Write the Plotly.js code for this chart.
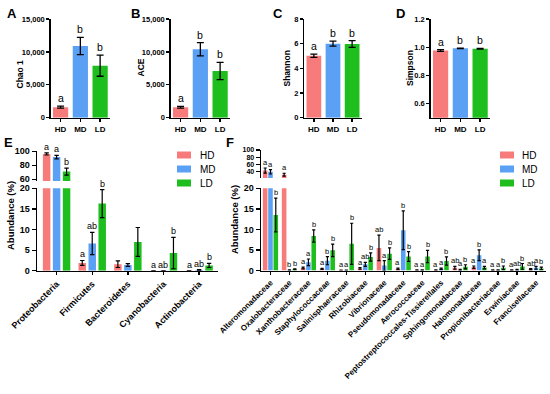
<!DOCTYPE html>
<html><head><meta charset="utf-8">
<script src="https://cdn.plot.ly/plotly-3.0.1.min.js"></script>
<style>html,body{margin:0;padding:0;background:#fff}#chart{width:550px;height:394px}</style>
</head><body><div id="chart"></div>
<script>
// ---------- data ----------
const groups = ['HD', 'MD', 'LD'];

const chao1 = [1600, 10900, 7900];
const chao1Err = [150, 1300, 1600];
const chao1Sig = ['a', 'b', 'b'];

const ace = [1600, 10400, 7100];
const aceErr = [130, 1000, 1300];
const aceSig = ['a', 'b', 'b'];

const shannon = [5.02, 6.0, 5.97];
const shannonErr = [0.13, 0.2, 0.27];
const shannonSig = ['a', 'b', 'b'];

const simpson = [0.977, 0.992, 0.989];
const simpsonErr = [0.006, 0.002, 0.003];
const simpsonSig = ['a', 'b', 'b'];

const phyla = ['Proteobacteria', 'Firmicutes', 'Bacteroidetes', 'Cyanobacteria', 'Actinobacteria'];
const phylumHD = [96.2, 1.9, 1.6, 0.03, 0.05];
const phylumHDErr = [1.5, 0.6, 0.8, 0.01, 0.02];
const phylumHDSig = ['a', 'a', '', 'a', 'a'];
const phylumMD = [91.8, 6.6, 1.4, 0.05, 0.2];
const phylumMDErr = [2.5, 2.7, 0.35, 0.02, 0.1];
const phylumMDSig = ['a', 'ab', '', 'ab', 'ab'];
const phylumLD = [71, 16.3, 7.0, 4.3, 1.3];
const phylumLDErr = [5, 3.4, 3.5, 3.8, 0.5];
const phylumLDSig = ['b', 'b', '', 'b', 'b'];

const families = ['Alteromonadaceae', 'Oxalobacteraceae', 'Xanthobacteraceae', 'Staphylococcaceae',
  'Salinisphaeraceae', 'Rhizobiaceae', 'Vibrionaceae', 'Pseudomonadaceae', 'Aerococcaceae',
  'Peptostreptococcales-Tissierellales', 'Sphingomonadaceae', 'Halomonadaceae',
  'Propionibacteriaceae', 'Erwiniaceae', 'Francisellaceae'];
const familyHD = [43.5, 32, 0.6, 0.4, 0.05, 0.5, 5.5, 0.4, 0.1, 0.1, 0.65, 0.8, 0.1, 0.1, 0.3];
const familyHDErr = [7, 4, 0.2, 0.15, 0.02, 0.2, 3.1, 0.2, 0.05, 0.05, 0.35, 0.3, 0.05, 0.05, 0.15];
const familyHDSig = ['a', 'a', 'a', 'a', 'a', 'a', 'ab', 'a', 'a', 'a', 'ab', 'a', 'a', 'a', 'ab'];
const familyMD = [40, 0.1, 2.0, 2.4, 0.05, 1.5, 1.2, 9.8, 0.1, 0.4, 0.15, 3.7, 0.1, 0.2, 0.65];
const familyMDErr = [6, 0.05, 0.8, 1.0, 0.02, 0.5, 1.2, 4.7, 0.05, 0.2, 0.1, 1.3, 0.05, 0.1, 0.35];
const familyMDSig = ['a', 'b', 'a', 'b', 'a', 'ab', 'a', 'b', 'a', 'a', 'a', 'b', 'a', 'ab', 'a'];
const familyLD = [13.5, 0.3, 8.4, 4.9, 6.5, 3.3, 4.1, 3.4, 3.4, 2.3, 0.9, 0.7, 0.65, 1.0, 0.5];
const familyLDErr = [4.1, 0.1, 1.5, 1.5, 5, 1.0, 1.4, 1.2, 1.5, 1.0, 0.5, 0.3, 0.45, 0.7, 0.3];
const familyLDSig = ['b', 'b', 'b', 'b', 'b', 'b', 'b', 'b', 'b', 'b', 'b', 'a', 'b', 'b', 'b'];

const colors = ['#F77B7B', '#5AA0F5', '#1DBE1D'];

// ---------- layout helpers ----------
const W = 550, H = 394;
const FONT = 'Arial, "Liberation Sans", sans-serif';
const fx = p => p / W;
const fy = p => 1 - p / H;
const bold = s => ({ family: FONT, size: s, color: '#000', weight: 'bold' });
const axisBase = {
  showline: true, linecolor: '#000', linewidth: 1.4, ticks: 'outside', ticklen: 4,
  tickwidth: 1.3, tickcolor: '#000', showgrid: false, zeroline: false, fixedrange: true
};

const traces = [];
const annotations = [];
const shapes = [];
const layout = {
  width: W, height: H, margin: { l: 0, r: 0, t: 0, b: 0 }, paper_bgcolor: '#fff',
  plot_bgcolor: 'rgba(0,0,0,0)', showlegend: false, barmode: 'overlay',
  font: { family: FONT, color: '#000' }
};

// ---------- panels A-D ----------
const topPanels = [
  { id: '', vals: chao1, err: chao1Err, sig: chao1Sig, title: 'Chao 1', xd: [50.7, 110],
    range: [0, 15000], tickvals: [0, 5000, 10000, 15000], fmt: ',', letter: 'A', lp: [11.5, 13], tp: [19.5, 74] },
  { id: '2', vals: ace, err: aceErr, sig: aceSig, title: 'ACE', xd: [170.7, 230],
    range: [0, 15000], tickvals: [0, 5000, 10000, 15000], fmt: ',', letter: 'B', lp: [135, 13], tp: [140.5, 68] },
  { id: '3', vals: shannon, err: shannonErr, sig: shannonSig, title: 'Shannon', xd: [304.3, 361.7],
    range: [0, 8], tickvals: [0, 2, 4, 6, 8], fmt: 'd', letter: 'C', lp: [278, 13], tp: [286, 68.5] },
  { id: '4', vals: simpson, err: simpsonErr, sig: simpsonSig, title: 'Simpson', xd: [430.7, 490],
    range: [0.5, 1.2], tickvals: [0.6, 0.8, 1.0, 1.2], fmt: '.1f', letter: 'D', lp: [400, 13], tp: [409.5, 68.5] }
];
topPanels.forEach(p => {
  const xa = 'x' + p.id, ya = 'y' + p.id;
  traces.push({
    type: 'bar', x: groups, y: p.vals, xaxis: xa, yaxis: ya, width: 0.77,
    marker: { color: colors, line: { width: 0 } },
    error_y: { type: 'data', array: p.err, visible: true, color: '#000', thickness: 1.3, width: 3.5 },
    hoverinfo: 'skip'
  });
  layout['xaxis' + p.id] = Object.assign({}, axisBase, {
    domain: [fx(p.xd[0]), fx(p.xd[1])], anchor: ya, type: 'category', range: [-0.5, 2.5],
    tickfont: bold(8), ticklen: 3
  });
  layout['yaxis' + p.id] = Object.assign({}, axisBase, {
    domain: [fy(117.7), fy(19)], anchor: xa, range: p.range, tickvals: p.tickvals,
    tickformat: p.fmt, tickfont: bold(7.5), ticklen: 3
  });
  p.vals.forEach((v, i) => {
    annotations.push({ xref: xa, yref: ya, x: i, y: v + p.err[i], text: p.sig[i], showarrow: false,
      yanchor: 'bottom', xanchor: 'center', yshift: 0, font: { family: FONT, size: 10.5, color: '#000' } });
  });
  annotations.push({ xref: 'paper', yref: 'paper', x: fx(p.lp[0]), y: fy(p.lp[1]), text: p.letter,
    showarrow: false, xanchor: 'center', yanchor: 'middle', font: bold(13) });
  annotations.push({ xref: 'paper', yref: 'paper', x: fx(p.tp[0]), y: fy(p.tp[1]), text: p.title,
    showarrow: false, textangle: -90, xanchor: 'center', yanchor: 'middle', font: bold(8.5) });
});

// ---------- broken-axis panels E, F ----------
const lowerPanels = [
  { xa: 'x5', lo: 'y5', hi: 'y6', cats: phyla,
    series: [[phylumHD, phylumHDErr, phylumHDSig], [phylumMD, phylumMDErr, phylumMDSig], [phylumLD, phylumLDErr, phylumLDSig]],
    width: 0.21, centers: [-0.28, 0, 0.28], cap: 2.2, xd: [37, 218], xrange: [-0.55, 4.53],
    loD: [270.8, 188.3], hiD: [181, 151.3], hiRange: [57.5, 100], hiTicks: [60, 80, 100], hiFont: 9,
    xfont: 9, sigFont: 9, letter: 'E', lp: [8, 143], tp: [10, 216], legX: 177, legTextX: 198 },
  { xa: 'x6', lo: 'y7', hi: 'y8', cats: families,
    series: [[familyHD, familyHDErr, familyHDSig], [familyMD, familyMDErr, familyMDSig], [familyLD, familyLDErr, familyLDSig]],
    width: 0.24, centers: [-0.28, 0, 0.28], cap: 1.6, xd: [261, 545.5], xrange: [-0.5, 14.5],
    loD: [270.5, 188.3], hiD: [178, 150], hiRange: [23, 100], hiTicks: [40, 60, 80, 100], hiFont: 7,
    xfont: 8, sigFont: 7.5, letter: 'F', lp: [230, 143], tp: [234, 220], legX: 500, legTextX: 520 }
];
const legY = [155, 169, 183];
lowerPanels.forEach(p => {
  const loMax = 20;
  p.series.forEach((s, g) => {
    [p.lo, p.hi].forEach(ya => {
      traces.push({
        type: 'bar', x: p.cats, y: s[0], xaxis: p.xa, yaxis: ya, width: p.width,
        offset: p.centers[g] - p.width / 2,
        marker: { color: colors[g], line: { width: 0 } },
        error_y: { type: 'data', array: s[1], visible: true, color: '#000', thickness: 1.2, width: p.cap },
        hoverinfo: 'skip'
      });
    });
    s[0].forEach((v, i) => {
      if (!s[2][i]) return;
      const top = v + s[1][i];
      annotations.push({ xref: p.xa, yref: top > loMax ? p.hi : p.lo, x: i + p.centers[g], y: top,
        text: s[2][i], showarrow: false, xanchor: 'center', yanchor: 'bottom', yshift: -1,
        font: { family: FONT, size: p.sigFont, color: '#000' } });
    });
    // legend
    shapes.push({ type: 'rect', xref: 'paper', yref: 'paper', x0: fx(p.legX), x1: fx(p.legX + 14),
      y0: fy(legY[g] + 3.5), y1: fy(legY[g] - 3.5), fillcolor: colors[g], line: { width: 0 } });
    annotations.push({ xref: 'paper', yref: 'paper', x: fx(p.legTextX), y: fy(legY[g]), text: groups[g],
      showarrow: false, xanchor: 'left', yanchor: 'middle', font: { family: FONT, size: 10, color: '#000' } });
  });
  layout['xaxis' + p.xa.slice(1)] = Object.assign({}, axisBase, {
    domain: [fx(p.xd[0]), fx(p.xd[1])], anchor: p.lo, type: 'category', range: p.xrange,
    tickangle: -45, tickfont: bold(p.xfont), ticklen: 3
  });
  layout['yaxis' + p.lo.slice(1)] = Object.assign({}, axisBase, {
    domain: [fy(p.loD[0]), fy(p.loD[1])], anchor: p.xa, range: [0, loMax],
    tickvals: [0, 5, 10, 15, 20], tickfont: bold(9)
  });
  layout['yaxis' + p.hi.slice(1)] = Object.assign({}, axisBase, {
    domain: [fy(p.hiD[0]), fy(p.hiD[1])], anchor: p.xa, range: p.hiRange,
    tickvals: p.hiTicks, tickfont: bold(p.hiFont)
  });
  annotations.push({ xref: 'paper', yref: 'paper', x: fx(p.lp[0]), y: fy(p.lp[1]), text: p.letter,
    showarrow: false, xanchor: 'center', yanchor: 'middle', font: bold(13) });
  annotations.push({ xref: 'paper', yref: 'paper', x: fx(p.tp[0]), y: fy(p.tp[1]), text: 'Abundance (%)',
    showarrow: false, textangle: -90, xanchor: 'center', yanchor: 'middle', font: bold(9.5) });
});

layout.annotations = annotations;
layout.shapes = shapes;
Plotly.newPlot('chart', traces, layout, { staticPlot: true, displayModeBar: false });
</script></body></html>
